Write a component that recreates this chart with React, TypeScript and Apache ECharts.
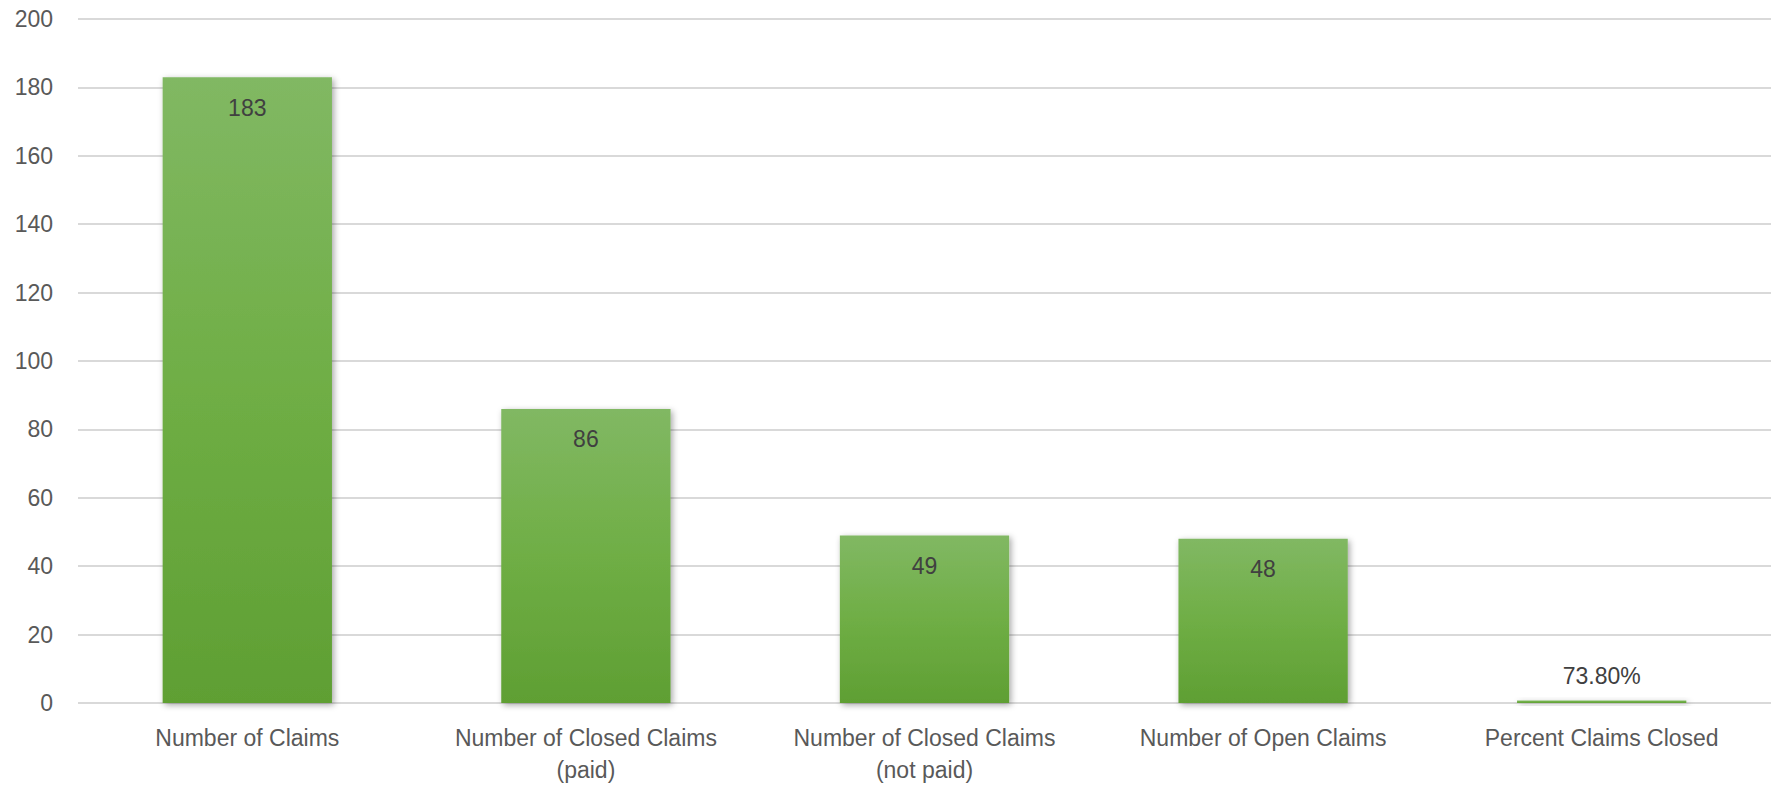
import React, { useEffect, useRef } from "react";
import * as echarts from "echarts";

const categories = [
  "Number of Claims",
  "Number of Closed Claims\n(paid)",
  "Number of Closed Claims\n(not paid)",
  "Number of Open Claims",
  "Percent Claims Closed",
];
const values = [183, 86, 49, 48, 0.738];
const valueLabels = ["183", "86", "49", "48", "73.80%"];
const yTicks = { min: 0, max: 200, interval: 20 };

export default function App() {
  const ref = useRef<HTMLDivElement>(null);
  useEffect(() => {
    if (!ref.current) return;
    const chart = echarts.init(ref.current, null, { renderer: "svg" });
    const font = "'Liberation Sans', Arial, sans-serif";
    const barColor = new echarts.graphic.LinearGradient(0, 0, 0, 1, [
      { offset: 0, color: "#81b863" },
      { offset: 0.5, color: "#6fae45" },
      { offset: 1, color: "#5f9f33" },
    ]);
    chart.setOption({
      animation: false,
      backgroundColor: "#ffffff",
      grid: { left: 78, right: -9, top: 19, bottom: 81, containLabel: false },
      xAxis: {
        type: "category",
        data: categories,
        axisLine: { show: false },
        axisTick: { show: false },
        axisLabel: {
          color: "#595959",
          fontSize: 23,
          fontFamily: font,
          lineHeight: 32,
          margin: 19,
          interval: 0,
        },
      },
      yAxis: {
        type: "value",
        min: yTicks.min,
        max: yTicks.max,
        interval: yTicks.interval,
        axisLine: { show: false },
        axisTick: { show: false },
        axisLabel: {
          color: "#595959",
          fontSize: 23,
          fontFamily: font,
          margin: 25,
        },
        splitLine: { lineStyle: { color: "#d9d9d9", width: 2 } },
      },
      series: [
        {
          type: "bar",
          barWidth: "50%",
          data: values.map((v, i) => ({
            value: v,
            label:
              i === values.length - 1
                ? { position: "top", distance: 13 }
                : { position: "insideTop", distance: 19 },
          })),
          itemStyle: {
            color: barColor,
            shadowBlur: 6,
            shadowColor: "rgba(0,0,0,0.35)",
            shadowOffsetX: 2,
            shadowOffsetY: 2,
          },
          label: {
            show: true,
            color: "#404040",
            fontSize: 23,
            fontFamily: font,
            formatter: (p: any) => valueLabels[p.dataIndex],
          },
        },
      ],
    });
    return () => chart.dispose();
  }, []);
  return (
    <div
      ref={ref}
      style={{ position: "fixed", left: 0, top: 0, width: 1771, height: 786 }}
    />
  );
}
